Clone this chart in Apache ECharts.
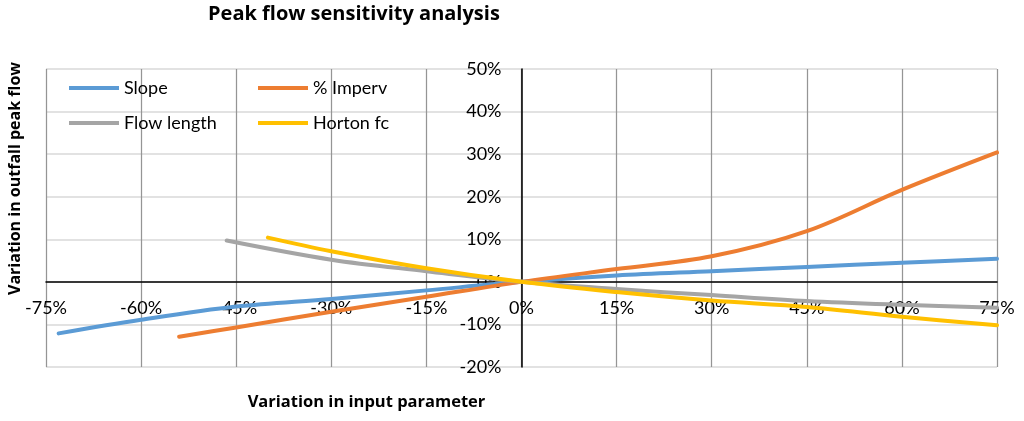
<!DOCTYPE html>
<html>
<head>
<meta charset="utf-8">
<script src="https://cdn.jsdelivr.net/npm/echarts@6/dist/echarts.min.js"></script>
<style>
html,body{margin:0;padding:0;background:#fff;}
#chart{width:1024px;height:421px;}
</style>
</head>
<body>
<div id="chart"></div>
<script>
// Data (x = variation in input parameter, %; y = variation in outfall peak flow, %)
const seriesNames = ['Slope', '% Imperv', 'Flow length', 'Horton fc'];
const slopeData = [[-73,-12.1],[-60,-8.9],[-45,-5.8],[-30,-4.0],[-15,-2.0],[0,0],[15,1.5],[30,2.5],[45,3.5],[60,4.5],[75,5.4]];
const impervData = [[-54,-12.9],[-45,-10.7],[-30,-7.0],[-15,-3.5],[0,0],[15,3.0],[30,6.0],[45,11.9],[60,21.6],[75,30.4]];
const flowLengthData = [[-46.5,9.7],[-30,5.2],[-15,2.5],[0,0],[15,-1.7],[30,-3.1],[45,-4.5],[60,-5.4],[75,-6.1]];
const hortonData = [[-40,10.4],[-30,7.2],[-15,3.2],[0,0],[15,-2.4],[30,-4.4],[45,-5.9],[60,-8.2],[75,-10.2]];
const colors = ['#5B9BD5', '#ED7D31', '#A5A5A5', '#FFC000'];
const xTicks = {min: -75, max: 75, interval: 15};
const yTicks = {min: -20, max: 50, interval: 10};
const titleText = 'Peak flow sensitivity analysis';
const xName = 'Variation in input parameter';
const yName = 'Variation in outfall peak flow';

const FONT = 'Lato';
const BOLDFONT = '"Open Sans"';
const W = 1024, H = 421;
const G = {left: 46, right: 27, top: 69, bottom: 54};
const plotW = W - G.left - G.right, plotH = H - G.top - G.bottom;
// pixel distance from grid edges to the zero lines (used to place axes crossing at origin)
const yZeroFromBottom = plotH * (0 - yTicks.min) / (yTicks.max - yTicks.min);
const xZeroFromLeft = plotW * (0 - xTicks.min) / (xTicks.max - xTicks.min);

const chart = echarts.init(document.getElementById('chart'), null, {renderer: 'canvas'});

function mkSeries(name, data, color) {
  return {
    name: name, type: 'line', data: data, smooth: 0.35,
    showSymbol: false, symbol: 'none',
    lineStyle: {color: color, width: 4, cap: 'round', join: 'round'},
    itemStyle: {color: color},
    emphasis: {disabled: true}
  };
}

const legendCommon = {
  orient: 'vertical', icon: 'rect', itemWidth: 50, itemHeight: 4, itemGap: 15,
  textStyle: {fontFamily: FONT, fontSize: 18, color: '#000', lineHeight: 20},
  top: 78, padding: 0, selectedMode: false
};

chart.setOption({
  animation: false,
  backgroundColor: '#fff',
  title: {
    text: titleText, left: 208, top: 4, padding: 0,
    textStyle: {fontFamily: BOLDFONT, fontSize: 20, fontWeight: 'bold', color: '#000'}
  },
  legend: [
    Object.assign({}, legendCommon, {left: 69, data: [seriesNames[0], seriesNames[2]]}),
    Object.assign({}, legendCommon, {left: 258, data: [seriesNames[1], seriesNames[3]]})
  ],
  grid: {left: G.left, right: G.right, top: G.top, bottom: G.bottom, containLabel: false, outerBoundsMode: 'none'},
  xAxis: {
    type: 'value', min: xTicks.min, max: xTicks.max, interval: xTicks.interval,
    position: 'bottom', offset: -yZeroFromBottom,
    axisLine: {show: true, onZero: false, lineStyle: {color: '#000', width: 1.5}},
    axisTick: {show: false},
    axisLabel: {formatter: '{value}%', fontFamily: FONT, fontSize: 18, color: '#000', margin: 17, hideOverlap: false},
    splitLine: {show: true, lineStyle: {color: '#959595', width: 1.25}}
  },
  yAxis: {
    type: 'value', min: yTicks.min, max: yTicks.max, interval: yTicks.interval,
    position: 'left', offset: -xZeroFromLeft,
    axisLine: {show: true, onZero: false, lineStyle: {color: '#000', width: 1.5}},
    axisTick: {show: false},
    axisLabel: {formatter: '{value}%', fontFamily: FONT, fontSize: 18, color: '#000', margin: 20, hideOverlap: false},
    splitLine: {show: true, lineStyle: {color: '#d9d9d9', width: 1.5}}
  },
  graphic: [
    {type: 'text', x: 366.5, y: 402, style: {text: xName, font: 'bold 16.5px ' + BOLDFONT, fill: '#000', align: 'center', verticalAlign: 'middle'}},
    {type: 'text', x: 15, y: 178.5, rotation: Math.PI / 2, style: {text: yName, font: 'bold 16px ' + BOLDFONT, fill: '#000', align: 'center', verticalAlign: 'middle'}}
  ],
  series: [
    mkSeries(seriesNames[0], slopeData, colors[0]),
    mkSeries(seriesNames[1], impervData, colors[1]),
    mkSeries(seriesNames[2], flowLengthData, colors[2]),
    mkSeries(seriesNames[3], hortonData, colors[3])
  ]
});
</script>
</body>
</html>
